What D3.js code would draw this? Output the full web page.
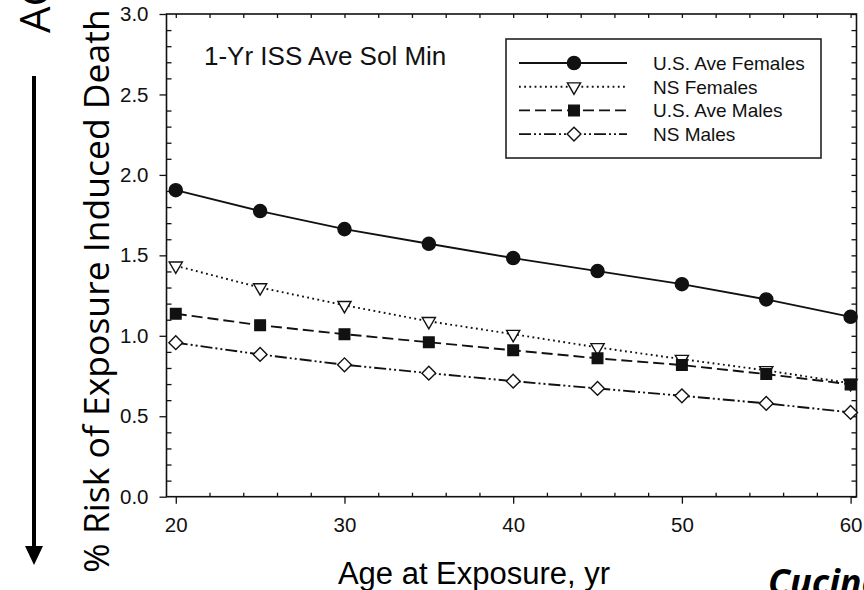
<!DOCTYPE html>
<html><head><meta charset="utf-8">
<script src="https://cdn.jsdelivr.net/npm/d3@7"></script>
<style>
html,body{margin:0;padding:0;background:#fff;overflow:hidden;}
svg{display:block;}
</style></head>
<body>
<svg id="chart" width="864" height="590"></svg>
<script>
// ---- data ----
const ages = [20, 25, 30, 35, 40, 45, 50, 55, 60];
const usAveFemales = [1.905, 1.775, 1.663, 1.572, 1.483, 1.402, 1.321, 1.226, 1.118];
const nsFemales    = [1.435, 1.300, 1.190, 1.090, 1.010, 0.928, 0.855, 0.785, 0.705];
const usAveMales   = [1.137, 1.066, 1.010, 0.960, 0.910, 0.860, 0.818, 0.762, 0.698];
const nsMales      = [0.957, 0.884, 0.820, 0.768, 0.718, 0.673, 0.627, 0.580, 0.524];
const seriesNames  = ["U.S. Ave Females", "NS Females", "U.S. Ave Males", "NS Males"];
const yMajorTicks  = [0, 0.5, 1.0, 1.5, 2.0, 2.5, 3.0];
const xMajorTicks  = [20, 30, 40, 50, 60];
const panelLabel   = "1-Yr ISS Ave Sol Min";
const xTitle       = "Age at Exposure, yr";
const yTitle       = "% Risk of Exposure Induced Death";

const svg = d3.select("#chart");
const L = 166.5, R = 856.5, T = 14, B = 496.7;
const x = d3.scaleLinear().domain([19.45, 60.35]).range([L, R]);
const y = d3.scaleLinear().domain([0, 3]).range([B, T]);

const axisFont = "'Liberation Sans', Arial, sans-serif";
const ink = "#111";

// minor tick values
const yMinor = d3.range(0, 30.5, 1).map(d => d / 10).filter(v => !yMajorTicks.includes(v));
const yAll = d3.range(0, 30.5, 1).map(d => d / 10);
const xMinor = d3.range(22, 60, 2).filter(v => !xMajorTicks.includes(v));
const xAll = d3.range(20, 60.5, 2);

function styleAxis(g) {
  g.select(".domain").remove();
  g.selectAll("line").attr("stroke", ink).attr("stroke-width", 1.3);
  g.selectAll("text").attr("fill", ink).style("font-family", axisFont).style("font-size", "20.5px");
}

// left axis majors (outward) + labels
svg.append("g").attr("transform", `translate(${L},0)`)
  .call(d3.axisLeft(y).tickValues(yMajorTicks).tickSize(7).tickPadding(11).tickFormat(d3.format(".1f")))
  .call(styleAxis);
// left minors inward
svg.append("g").attr("transform", `translate(${L},0)`)
  .call(d3.axisRight(y).tickValues(yMinor).tickSize(5).tickFormat(""))
  .call(styleAxis);
// right axis ticks inward
svg.append("g").attr("transform", `translate(${R},0)`)
  .call(d3.axisLeft(y).tickValues(yAll).tickSize(5).tickFormat(""))
  .call(styleAxis);
// bottom majors outward
svg.append("g").attr("transform", `translate(0,${B})`)
  .call(d3.axisBottom(x).tickValues(xMajorTicks).tickSize(7).tickPadding(14).tickFormat(d3.format("d")))
  .call(styleAxis);
// bottom minors inward
svg.append("g").attr("transform", `translate(0,${B})`)
  .call(d3.axisTop(x).tickValues(xMinor).tickSize(4).tickFormat(""))
  .call(styleAxis);
// top ticks inward
svg.append("g").attr("transform", `translate(0,${T})`)
  .call(d3.axisBottom(x).tickValues(xAll).tickSize(4).tickFormat(""))
  .call(styleAxis);

// frame
svg.append("rect").attr("x", L).attr("y", T).attr("width", R - L).attr("height", B - T)
  .attr("fill", "none").attr("stroke", ink).attr("stroke-width", 1.6);

// series definitions
const series = [
  {name: seriesNames[0], values: usAveFemales, dash: null, sym: d3.symbolCircle, size: 135, fill: ink, rot: 0},
  {name: seriesNames[1], values: nsFemales, dash: "1.8,3.4", sym: d3.symbolTriangle, size: 75, fill: "#fff", rot: 180},
  {name: seriesNames[2], values: usAveMales, dash: "11,5", sym: d3.symbolSquare, size: 112, fill: ink, rot: 0},
  {name: seriesNames[3], values: nsMales, dash: "12,3,2,3,2,3", sym: d3.symbolSquare, size: 95, fill: "#fff", rot: 45},
];

const line = d3.line().x(d => x(d[0])).y(d => y(d[1]));

series.forEach(s => {
  const pts = ages.map((a, i) => [a, s.values[i]]);
  svg.append("path").datum(pts).attr("d", line)
    .attr("fill", "none").attr("stroke", ink).attr("stroke-width", 1.9)
    .attr("stroke-dasharray", s.dash);
  svg.append("g").selectAll("path").data(pts).join("path")
    .attr("d", d3.symbol(s.sym, s.size))
    .attr("transform", d => `translate(${x(d[0])},${y(d[1])}) rotate(${s.rot})`)
    .attr("fill", s.fill).attr("stroke", ink).attr("stroke-width", 1.4);
});

// panel label
svg.append("text").attr("x", 204).attr("y", 65).text(panelLabel)
  .style("font-family", axisFont).style("font-size", "26px").attr("fill", ink);

// legend
const lg = svg.append("g");
lg.append("rect").attr("x", 506).attr("y", 39).attr("width", 315).attr("height", 119)
  .attr("fill", "#fff").attr("stroke", "#222").attr("stroke-width", 1.6);
series.forEach((s, i) => {
  const ry = 63 + i * 23.7;
  lg.append("line").attr("x1", 519).attr("x2", 627).attr("y1", ry).attr("y2", ry)
    .attr("stroke", ink).attr("stroke-width", 1.9).attr("stroke-dasharray", s.dash);
  lg.append("path").attr("d", d3.symbol(s.sym, s.size))
    .attr("transform", `translate(574,${ry}) rotate(${s.rot})`)
    .attr("fill", s.fill).attr("stroke", ink).attr("stroke-width", 1.4);
  lg.append("text").attr("x", 653).attr("y", ry + 6.8).text(s.name)
    .style("font-family", axisFont).style("font-size", "19px").attr("fill", ink);
});

// axis titles
svg.append("text").attr("x", 474).attr("y", 584).attr("text-anchor", "middle")
  .text(xTitle).style("font-family", axisFont).style("font-size", "31px").attr("fill", "#000");

svg.append("text").attr("transform", "translate(109,291) rotate(-90)").attr("text-anchor", "middle")
  .text(yTitle).style("font-family", "'Open Sans', sans-serif").style("font-size", "35.5px").attr("fill", "#000");

// slide decorations
svg.append("text").attr("transform", "translate(50,33) rotate(-90)").attr("text-anchor", "start")
  .text("AGE").style("font-family", "'Open Sans', sans-serif").style("font-size", "42px").attr("fill", "#000");

svg.append("line").attr("x1", 34).attr("x2", 34).attr("y1", 76).attr("y2", 550)
  .attr("stroke", "#000").attr("stroke-width", 4);
svg.append("path").attr("d", "M25,546 L43,546 L34,565 Z").attr("fill", "#000");

svg.append("text").attr("x", 768).attr("y", 595).text("Cucinotta et al.")
  .style("font-family", "'Open Sans', sans-serif").style("font-size", "36px")
  .style("font-weight", "bold").style("font-style", "italic").attr("fill", "#000");
</script>
</body></html>
